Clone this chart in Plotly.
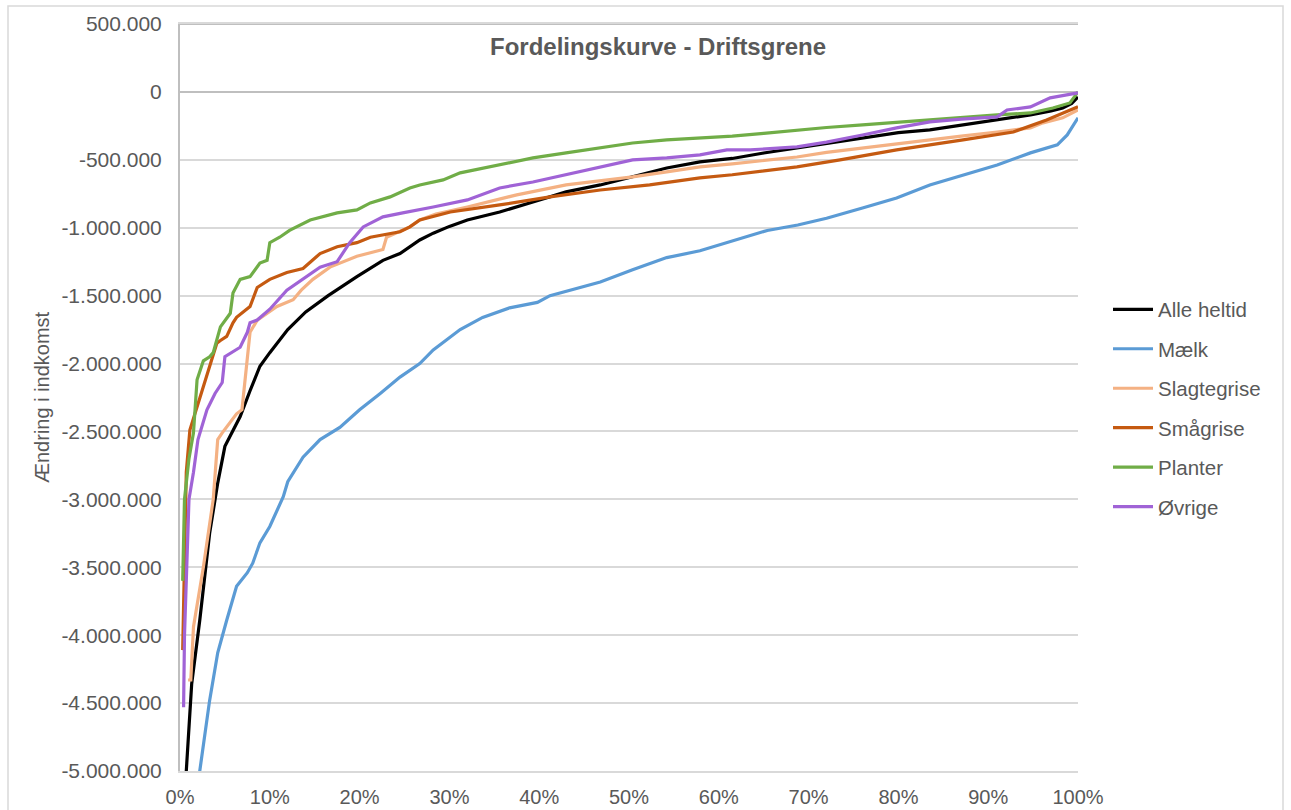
import plotly.graph_objects as go

# ---------------- data (x in % of farms, y in 1.000 kr) ----------------
series_names = ["Alle heltid", "Mælk", "Slagtegrise", "Smågrise", "Planter", "Øvrige"]
series_colors = ["#000000", "#5B9BD5", "#F4B183", "#C55A11", "#70AD47", "#A063D6"]

alle_x = [0.3, 0.7, 1.3, 2.2, 3.3, 4.2, 5.0, 5.8, 6.7, 7.8, 8.9, 10.0, 12.0, 14.0, 16.5,
          19.7, 22.6, 24.5, 26.7, 28.2, 30, 32, 35.6, 39.3, 43, 46.8, 50.4, 54.2, 57.9, 61.5,
          65, 68.7, 72, 76, 80, 83.5, 87, 91, 94.7, 97, 98.3, 99.3, 100]
alle_y = [-6500, -5000, -4360, -3890, -3250, -2880, -2610, -2510, -2390, -2200, -2020, -1920, -1750, -1620, -1500,
          -1360, -1240, -1190, -1090, -1040, -990, -943, -884, -810, -736, -685, -626, -560, -515, -490,
          -450, -412, -380, -339, -300, -280, -245, -206, -169, -140, -118, -85, -37]

maelk_x = [1.6, 2.2, 3.3, 4.2, 5.2, 6.3, 7.5, 8.1, 8.9, 10, 11.5, 12, 13.7, 15.6, 17.8,
           20, 22.3, 24.5, 26.7, 28.2, 31.2, 33.7, 36.7, 39.8, 41.2, 43.5, 46.8, 50.4, 54.2, 57.9,
           61.5, 65.4, 68.8, 72, 76, 79.8, 83.5, 87.2, 91, 94.7, 97.7, 98.8, 100]
maelk_y = [-5600, -5000, -4480, -4130, -3890, -3640, -3540, -3470, -3320, -3200, -2980, -2870, -2690, -2560, -2470,
           -2340, -2220, -2100, -2000, -1900, -1750, -1660, -1590, -1550, -1500, -1460, -1400, -1310, -1220, -1170,
           -1100, -1020, -980, -930, -855, -781, -685, -611, -538, -449, -390, -317, -191]

slagte_x = [0.9, 1.2, 1.5, 2.6, 3.7, 4.2, 4.7, 6.3, 6.9, 7.5, 7.8, 8.6, 9.7, 10.8, 12.6,
            13.5, 14.8, 16.7, 19.7, 22.6, 23.0, 25.6, 26.7, 28.5, 32, 37.5, 43, 50.4, 54.2, 57.9,
            61.5, 65, 68.7, 72, 76, 80, 83.5, 87, 91, 94.7, 96.1, 98.3, 100]
slagte_y = [-4330, -4330, -3940, -3500, -3000, -2560, -2510, -2370, -2340, -1990, -1770, -1680, -1630, -1580, -1530,
            -1460, -1380, -1290, -1210, -1160, -1070, -994, -943, -900, -847, -758, -685, -626, -589, -552,
            -530, -505, -479, -445, -412, -380, -353, -325, -295, -265, -228, -191, -133]

smaa_x = [0.3, 0.45, 0.7, 1.1, 1.9, 2.2, 3.3, 4.1, 4.5, 5.2, 5.9, 6.3, 7.8, 8.6, 10,
          11.9, 13.7, 14.8, 15.6, 17.5, 19.7, 21.2, 23.4, 24.5, 25.6, 26.7, 30.1, 35.6, 41.2, 46.8,
          52.3, 57.9, 61.5, 65, 68.7, 73.5, 79.8, 87.2, 92.8, 96.5, 100]
smaa_y = [-4110, -3500, -2800, -2490, -2320, -2250, -2020, -1850, -1830, -1800, -1700, -1660, -1580, -1440, -1380,
          -1330, -1300, -1240, -1190, -1140, -1110, -1070, -1040, -1030, -994, -943, -884, -832, -773, -722,
          -685, -633, -610, -580, -552, -501, -427, -353, -295, -206, -110]

planter_x = [0.3, 0.5, 1.0, 1.5, 1.9, 2.6, 3.3, 3.7, 4.5, 5.6, 5.9, 6.7, 7.8, 8.9, 9.7,
             10.0, 11.1, 12.2, 14.5, 17.5, 19.7, 21.2, 23.4, 25.6, 26.7, 29.3, 31.2, 35.6, 39.3, 43,
             46.8, 50.4, 54.2, 57.9, 61.5, 65, 68.7, 72, 76, 80, 83.5, 87, 91, 94.7, 97.2, 99.1, 100]
planter_y = [-3600, -3000, -2700, -2510, -2120, -1980, -1950, -1920, -1730, -1630, -1480, -1380, -1360, -1260, -1240,
             -1110, -1070, -1020, -943, -891, -869, -817, -773, -707, -685, -648, -596, -538, -486, -449,
             -412, -376, -353, -339, -325, -305, -280, -262, -243, -222, -206, -188, -169, -155, -118, -81, 0]

ovrige_x = [0.4, 0.5, 1.0, 1.5, 2.0, 3.0, 3.9, 4.7, 5.0, 6.3, 6.7, 7.5, 7.8, 8.6, 10.0,
            11.9, 13.7, 15.6, 17.5, 18.9, 20.4, 22.6, 24.8, 26.7, 28.2, 32, 35.6, 39.3, 43, 46.8,
            50.4, 54.2, 57.9, 60.9, 63.5, 68.7, 72, 76, 79.8, 83.5, 87, 91, 92.1, 94.7, 96.9, 100]
ovrige_y = [-4530, -4000, -3000, -2800, -2560, -2340, -2220, -2140, -1950, -1900, -1880, -1770, -1700, -1680, -1600,
            -1460, -1380, -1290, -1250, -1110, -994, -920, -891, -869, -847, -795, -707, -663, -611, -552,
            -501, -486, -464, -427, -427, -405, -370, -317, -265, -221, -200, -184, -133, -110, -44, -7]

y_tickvals = [500000, 0, -500000, -1000000, -1500000, -2000000, -2500000, -3000000,
              -3500000, -4000000, -4500000, -5000000]
y_ticktext = ["500.000", "0", "-500.000", "-1.000.000", "-1.500.000", "-2.000.000", "-2.500.000",
              "-3.000.000", "-3.500.000", "-4.000.000", "-4.500.000", "-5.000.000"]
x_tickvals = [0, 10, 20, 30, 40, 50, 60, 70, 80, 90, 100]
x_ticktext = ["0%", "10%", "20%", "30%", "40%", "50%", "60%", "70%", "80%", "90%", "100%"]

chart_title = "Fordelingskurve - Driftsgrene"
y_title = "Ændring i indkomst"

all_x = [alle_x, maelk_x, slagte_x, smaa_x, planter_x, ovrige_x]
all_y = [alle_y, maelk_y, slagte_y, smaa_y, planter_y, ovrige_y]

# ---------------- figure ----------------
FONT = "Liberation Sans, Arial, sans-serif"
GREY = "#595959"

fig = go.Figure()
for name, color, xs, ys in zip(series_names, series_colors, all_x, all_y):
    fig.add_trace(go.Scatter(
        x=xs, y=[v * 1000 for v in ys], mode="lines", name=name,
        legendgroup=name,
        line=dict(color=color, width=3.2),
    ))

W, H = 1291, 810
L, R, T, B = 180, 1078, 24, 771


def px(xp):
    return (xp - L) / (R - L)


def py(yp):
    return (B - yp) / (B - T)


fig.update_layout(
    width=W, height=H,
    margin=dict(l=L, r=W - R, t=T, b=H - B, pad=0, autoexpand=False),
    paper_bgcolor="white", plot_bgcolor="white",
    font=dict(family=FONT, color=GREY, size=20),
    showlegend=True,
    legend=dict(
        x=px(1108), xanchor="left", y=py(408), yanchor="middle",
        font=dict(family=FONT, size=20.5, color=GREY),
        tracegroupgap=9.8, itemwidth=40, bgcolor="rgba(0,0,0,0)",
    ),
    xaxis=dict(
        range=[0, 100], tickvals=x_tickvals, ticktext=x_ticktext,
        showgrid=False, zeroline=False, automargin=False,
        showline=True, linecolor="#D9D9D9", linewidth=2, mirror=True,
        ticks="", ticklabelstandoff=7,
        tickfont=dict(family=FONT, size=20, color=GREY),
    ),
    yaxis=dict(
        range=[-5000000, 500000], tickvals=y_tickvals, ticktext=y_ticktext,
        showgrid=True, gridcolor="#D9D9D9", gridwidth=2, automargin=False,
        zeroline=True, zerolinecolor="#BFBFBF", zerolinewidth=2,
        showline=True, linecolor="#BFBFBF", linewidth=2,
        ticks="", ticklabelstandoff=12,
        tickfont=dict(family=FONT, size=21, color=GREY),
    ),
    annotations=[
        dict(text="<b>" + chart_title + "</b>", xref="paper", yref="paper",
             x=px(658), y=py(46), xanchor="center", yanchor="middle", showarrow=False,
             font=dict(family=FONT, size=24, color=GREY)),
        dict(text=y_title, xref="paper", yref="paper",
             x=px(42), y=py(397), xanchor="center", yanchor="middle", showarrow=False,
             textangle=-90, font=dict(family=FONT, size=20, color=GREY)),
    ],
    shapes=[
        dict(type="rect", xref="paper", yref="paper",
             x0=px(8), x1=px(1283), y0=py(830), y1=py(6),
             line=dict(color="#D9D9D9", width=1.5), fillcolor="rgba(0,0,0,0)", layer="below"),
        dict(type="line", xref="paper", yref="paper",
             x0=0, x1=1, y0=1, y1=1,
             line=dict(color="#BFBFBF", width=2), layer="below"),
    ],
)

fig.write_html("out.html", config={"displayModeBar": False},
               post_script="document.body.style.margin='0px';")
